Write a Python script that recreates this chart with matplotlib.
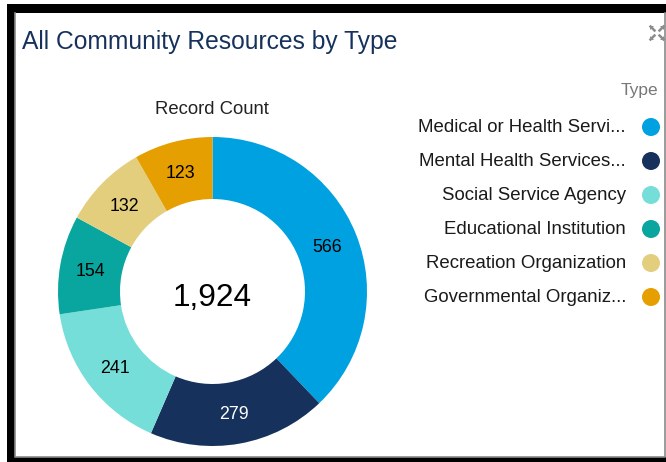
import matplotlib
matplotlib.use("Agg")
import matplotlib.pyplot as plt
from matplotlib.patches import Rectangle, Circle
import numpy as np

# ---- data ----
types = ["Medical or Health Servi...", "Mental Health Services...", "Social Service Agency",
         "Educational Institution", "Recreation Organization", "Governmental Organiz..."]
counts = [566, 279, 241, 154, 132, 123]
total_label = "1,924"
colors = ["#00A1E0", "#16325C", "#76DED9", "#08A69E", "#E2CE7D", "#E69F00"]
label_colors = ["black", "white", "black", "black", "black", "black"]

W, H = 666, 462
NAVY = "#16325C"
plt.rcParams.update({"font.family": ["Liberation Sans", "DejaVu Sans"]})

fig = plt.figure(figsize=(W / 100, H / 100), dpi=100)
ax = fig.add_axes([0, 0, 1, 1])
ax.set_xlim(0, W); ax.set_ylim(0, H); ax.axis("off")

def Y(y): return H - y  # pixel row -> data y

# frame: thick black on left/top/bottom, thin grey inner line
for x0, y0, w, h in [(7, 4, 8, 458), (7, 4, 659, 9), (7, 457, 659, 5)]:
    ax.add_patch(Rectangle((x0, Y(y0 + h)), w, h, color="black", lw=0, zorder=1))
ax.plot([15, 15, 664.5, 664.5], [Y(13), Y(457), Y(457), Y(13)], color="#8a8a8a", lw=1.2, zorder=2)

# title + expand icon
ax.text(22, Y(42), "All Community Resources by Type", fontsize=17.7, color=NAVY, va="center", ha="left")
ic = "#8c8c8c"
for sx, sy in [(-1, -1), (1, -1), (-1, 1), (1, 1)]:
    ix, iy = 657 + sx * 4, Y(33) + sy * 4
    ax.fill([ix + sx * 3, ix + sx * 3, ix - sx * 1], [iy + sy * 3, iy - sy * 1, iy + sy * 3], color=ic, lw=0, zorder=3)
    ax.plot([ix + sx * 2.5, ix - sx * 1.5], [iy + sy * 2.5, iy - sy * 1.5], color=ic, lw=1.8, zorder=3)

# donut
cx, cy, R, r_in = 212.5, Y(291.5), 154.5, 92.5
wedges, _ = ax.pie(counts, colors=colors, startangle=90, counterclock=False, center=(cx, cy),
                   radius=R, wedgeprops=dict(width=R - r_in, linewidth=0), frame=True)
ax.set_xlim(0, W); ax.set_ylim(0, H); ax.set_aspect("equal"); ax.axis("off")
rl = (R + r_in) / 2
for wdg, v, lc in zip(wedges, counts, label_colors):
    a = np.deg2rad((wdg.theta1 + wdg.theta2) / 2)
    ax.text(cx + rl * np.cos(a), cy + rl * np.sin(a) - 1.5, f"{v}", ha="center", va="center",
            fontsize=12.8, color=lc)
ax.text(cx, cy - 6.5, total_label, ha="center", va="center", fontsize=22.8, color="black")
ax.text(212, Y(110), "Record Count", ha="center", va="center", fontsize=13.3, color="#222222")

# legend
ax.text(658, Y(91), "Type", ha="right", va="center", fontsize=12.5, color="#777777")
for i, (t, c) in enumerate(zip(types, colors)):
    yy = Y(127 + 34 * i)
    ax.text(626, yy - 1, t, ha="right", va="center", fontsize=13.4, color="#1a1a1a")
    ax.add_patch(Circle((651, yy), 9, color=c, lw=0, zorder=3))

fig.savefig("out.png", dpi=100, facecolor="white")
